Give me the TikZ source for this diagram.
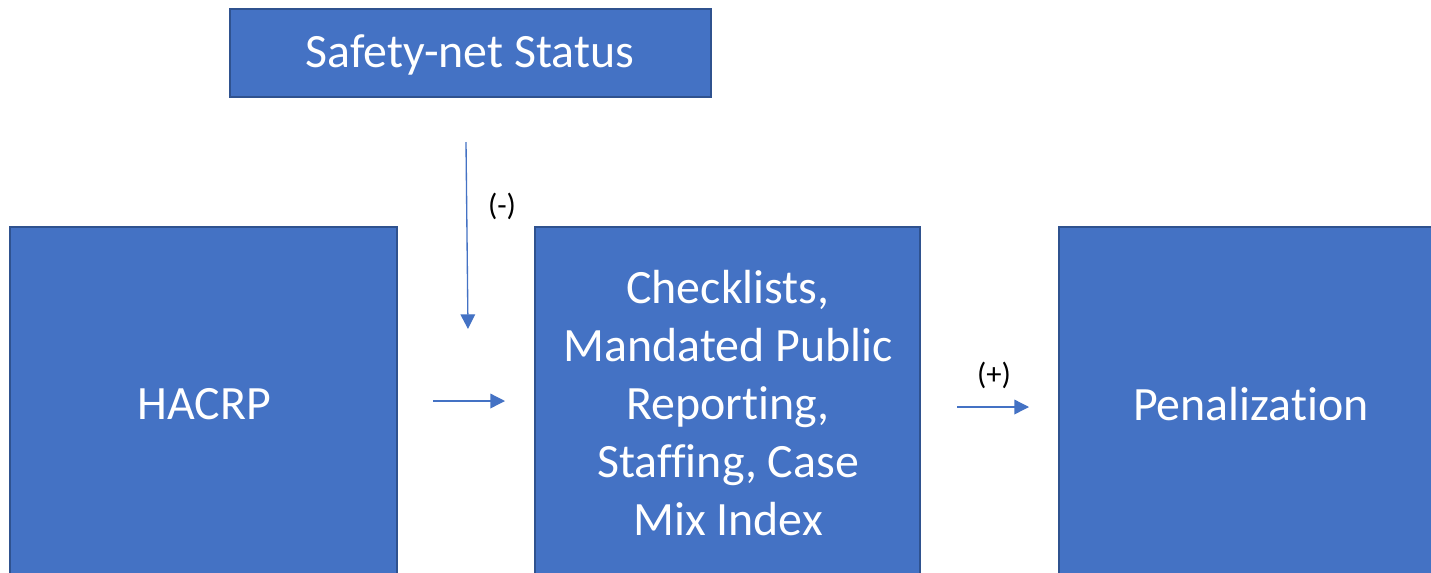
\documentclass[tikz,border=0pt]{standalone}
\usepackage{fontspec}
\setmainfont{Carlito}[Ligatures=NoCommon]
\usetikzlibrary{arrows.meta}
\definecolor{boxfill}{HTML}{4472C4}
\definecolor{boxline}{HTML}{2F528F}
\begin{document}
\begin{tikzpicture}[x=0.75pt,y=-0.75pt,
  blk/.style={draw=boxline,line width=1.5pt,fill=boxfill},
  btext/.style={text=white,font=\fontsize{35.9}{43.5}\selectfont,align=center},
  lbl/.style={text=black,font=\fontsize{23}{27}\selectfont},
  conn/.style={draw=boxfill,line width=1pt,-{Triangle[length=11pt,width=11pt]}}]
\useasboundingbox (0,0) rectangle (1431,572);
\fill[white] (0,0) rectangle (1431,572);
\draw[blk] (230,9) rectangle (711,97);
\draw[blk] (10,227) rectangle (397,582);
\draw[blk] (535,227) rectangle (920,582);
\draw[blk] (1059,227) rectangle (1445,582);
\node[btext] (safety) at (470,55) {Safety-net Status};
\node[btext] (hacrp) at (204,404) {HACRP};
\node[btext] (mid) at (728,403) {Checklists,\\Mandated Public\\Reporting,\\Staffing, Case\\Mix Index};
\node[btext] (pen) at (1251,404) {Penalization};
\coordinate (v1) at (466,142);
\coordinate (v2) at (468,329);
\coordinate (h1) at (433,401);
\coordinate (h2) at (505,401);
\coordinate (p1) at (957,407);
\coordinate (p2) at (1029,407);
\draw[conn] (v1) -- (v2);
\draw[conn] (h1) -- (h2);
\draw[conn] (p1) -- (p2);
\node[lbl] (minus) at (502,206) {(-)};
\node[lbl] (plus) at (994,375) {(+)};
\end{tikzpicture}
\end{document}
